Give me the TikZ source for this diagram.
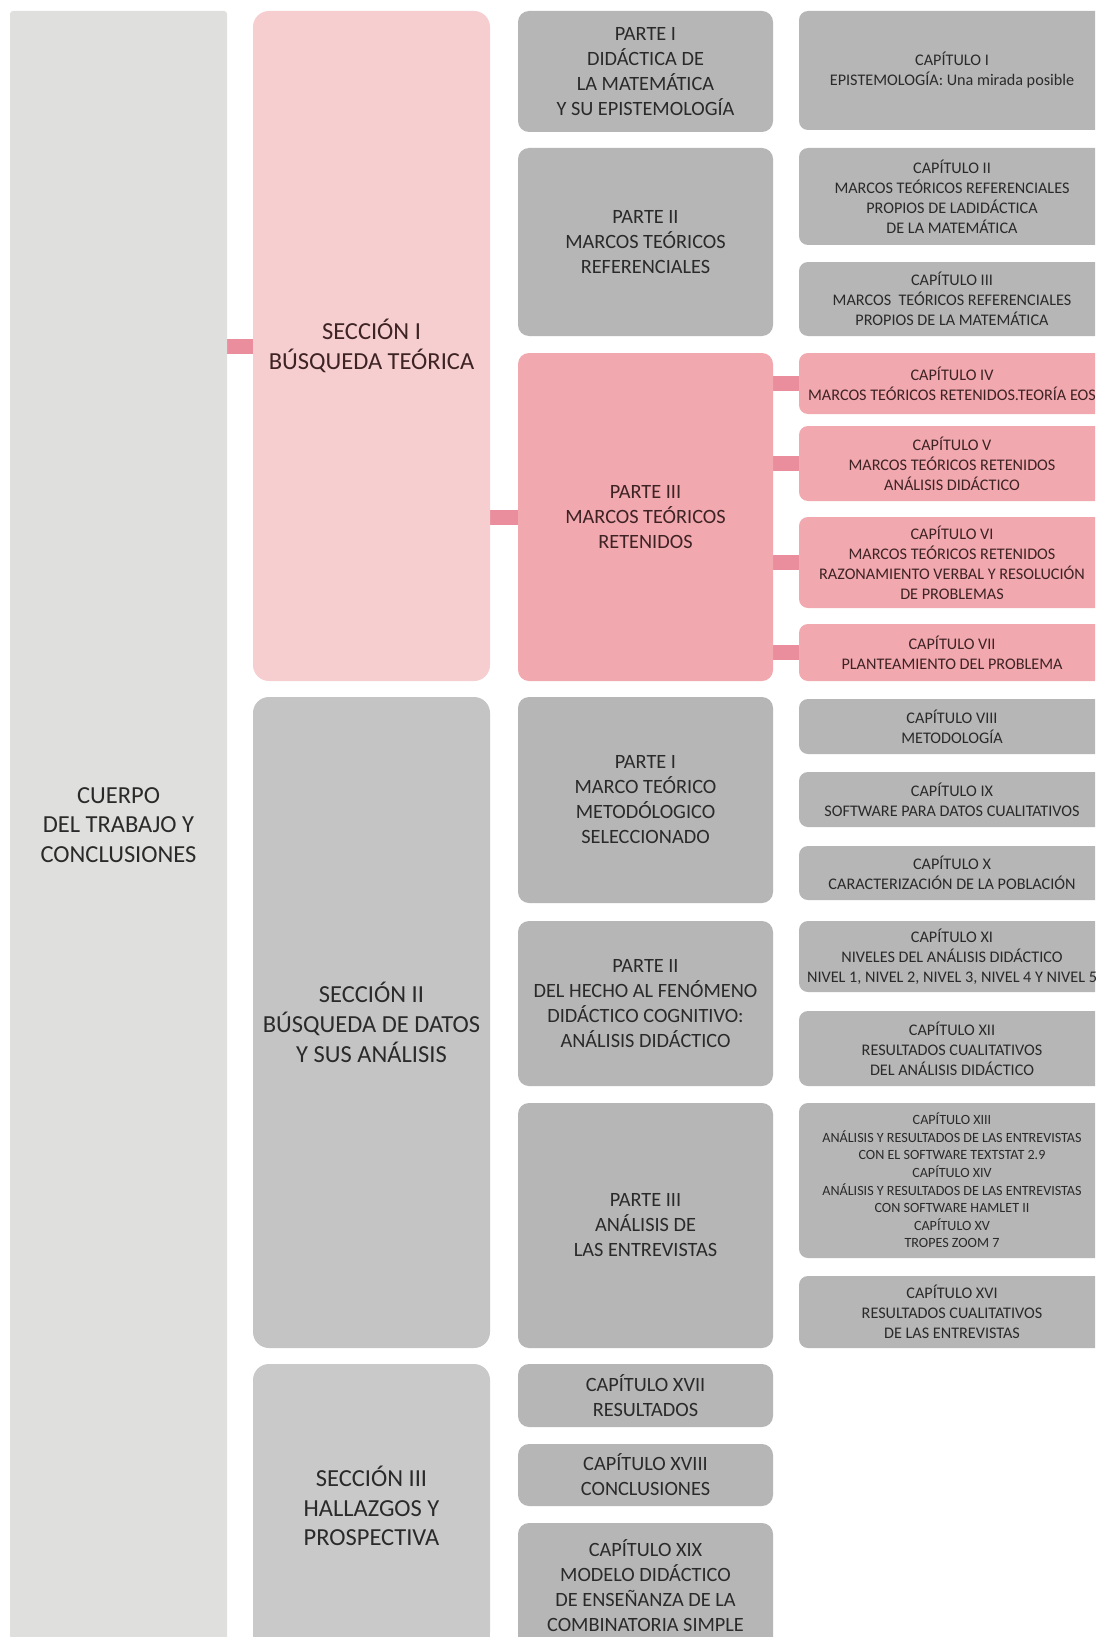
\documentclass[tikz,border=0pt]{standalone}
\usepackage{fontspec}
\setmainfont{Carlito}
\usetikzlibrary{backgrounds}
\definecolor{leftgray}{HTML}{DFE0DD}
\definecolor{secpink}{HTML}{F6CED0}
\definecolor{midpink}{HTML}{F1A8AF}
\definecolor{connpink}{HTML}{EA8D9D}
\definecolor{boxgray}{HTML}{B6B6B6}
\definecolor{secgray}{HTML}{C4C4C4}
\definecolor{lightsec}{HTML}{C9C9C9}
\definecolor{inkgray}{HTML}{2A2A2A}
\definecolor{inkpink}{HTML}{3E2324}
% box from (x1,y1) to (x2,y2): name, x1, y1, x2, y2, style, text
\newcommand\bx[7]{\node[#6, minimum width={(#4-#2)*1pt}, minimum height={(#5-#3)*1pt}] (#1) at ({(#2+#4)/2},{(#3+#5)/2}) {#7};}
\begin{document}
\begin{tikzpicture}[x=1pt,y=-1pt,
  base/.style={inner sep=0pt, align=center, text=inkgray},
  bigtxt/.style={font=\fontsize{24.5}{29.8}\selectfont},
  partetxt/.style={font=\fontsize{20.3}{25}\selectfont},
  captxt/.style={font=\fontsize{16.2}{20}\selectfont},
  smalltxt/.style={font=\fontsize{14.1}{17.6}\selectfont},
  mainbox/.style={base, bigtxt, fill=leftgray, rounded corners=3pt},
  secI/.style={base, bigtxt, fill=secpink, text=inkpink, rounded corners=16pt},
  secII/.style={base, bigtxt, fill=secgray, rounded corners=16pt},
  secIII/.style={base, bigtxt, fill=lightsec, rounded corners=16pt},
  gpart/.style={base, partetxt, fill=boxgray, rounded corners=11pt},
  ppart/.style={base, partetxt, fill=midpink, text=inkpink, rounded corners=11pt},
  gcap/.style={base, captxt, fill=boxgray, rounded corners=9pt},
  pcap/.style={base, captxt, fill=midpink, text=inkpink, rounded corners=9pt},
  conn/.style={draw=connpink, line width=15pt}
]
\useasboundingbox (0,0) rectangle (1095,1637);
\clip (0,0) rectangle (1095,1637);
\begin{scope}[on background layer]
  \fill[white] (0,0) rectangle (1095,1637);
\end{scope}

% main column
\bx{cuerpo}{10}{11}{227}{1639}{mainbox}{CUERPO\\DEL TRABAJO Y\\CONCLUSIONES}

% sections
\bx{s1}{253}{11}{490}{681}{secI}{SECCIÓN I\\BÚSQUEDA TEÓRICA}
\bx{s2}{253}{697}{490}{1348}{secII}{SECCIÓN II\\BÚSQUEDA DE DATOS\\Y SUS ANÁLISIS}
\fill[lightsec] (253,1600) rectangle (490,1660);
\bx{s3}{253}{1364}{490}{1648}{secIII}{SECCIÓN III\\HALLAZGOS Y\\PROSPECTIVA}

% parts, section I
\bx{p1}{518}{11}{773}{132}{gpart}{PARTE I\\DIDÁCTICA DE\\LA MATEMÁTICA\\Y SU EPISTEMOLOGÍA}
\bx{p2}{518}{148}{773}{336}{gpart}{PARTE II\\MARCOS TEÓRICOS\\REFERENCIALES}
\bx{p3}{518}{353}{773}{681}{ppart}{PARTE III\\MARCOS TEÓRICOS\\RETENIDOS}

% parts, section II
\bx{q1}{518}{697}{773}{903}{gpart}{PARTE I\\MARCO TEÓRICO\\METODÓLOGICO\\SELECCIONADO}
\bx{q2}{518}{921}{773}{1086}{gpart}{PARTE II\\DEL HECHO AL FENÓMENO\\DIDÁCTICO COGNITIVO:\\ANÁLISIS DIDÁCTICO}
\bx{q3}{518}{1103}{773}{1348}{gpart}{PARTE III\\ANÁLISIS DE\\LAS ENTREVISTAS}

% chapters, section III
\bx{c17}{518}{1364}{773}{1427}{gpart}{CAPÍTULO XVII\\RESULTADOS}
\bx{c18}{518}{1444}{773}{1506}{gpart}{CAPÍTULO XVIII\\CONCLUSIONES}
\bx{c19}{518}{1523}{773}{1665}{gpart}{}
\node[base, partetxt] (c19txt) at (645.5,1586) {CAPÍTULO XIX\\MODELO DIDÁCTICO\\DE ENSEÑANZA DE LA\\COMBINATORIA SIMPLE};

% chapters
\bx{c1}{799}{11}{1105}{130}{gcap}{CAPÍTULO I\\EPISTEMOLOGÍA: Una mirada posible}
\bx{c2}{799}{148}{1105}{245}{gcap}{CAPÍTULO II\\MARCOS TEÓRICOS REFERENCIALES\\PROPIOS DE LADIDÁCTICA\\DE LA MATEMÁTICA}
\bx{c3}{799}{262}{1105}{336}{gcap}{CAPÍTULO III\\MARCOS\ \ TEÓRICOS REFERENCIALES\\PROPIOS DE LA MATEMÁTICA}
\bx{c4}{799}{353}{1105}{414}{pcap}{CAPÍTULO IV\\MARCOS TEÓRICOS RETENIDOS.TEORÍA EOS}
\bx{c5}{799}{426}{1105}{501}{pcap}{CAPÍTULO V\\MARCOS TEÓRICOS RETENIDOS\\ANÁLISIS DIDÁCTICO}
\bx{c6}{799}{517}{1105}{608}{pcap}{CAPÍTULO VI\\MARCOS TEÓRICOS RETENIDOS\\RAZONAMIENTO VERBAL Y RESOLUCIÓN\\DE PROBLEMAS}
\bx{c7}{799}{624}{1105}{681}{pcap}{CAPÍTULO VII\\PLANTEAMIENTO DEL PROBLEMA}
\bx{c8}{799}{699}{1105}{754}{gcap}{CAPÍTULO VIII\\METODOLOGÍA}
\bx{c9}{799}{772}{1105}{827}{gcap}{CAPÍTULO IX\\SOFTWARE PARA DATOS CUALITATIVOS}
\bx{c10}{799}{846}{1105}{900}{gcap}{CAPÍTULO X\\CARACTERIZACIÓN DE LA POBLACIÓN}
\bx{c11}{799}{921}{1105}{992}{gcap}{CAPÍTULO XI\\NIVELES DEL ANÁLISIS DIDÁCTICO\\NIVEL 1, NIVEL 2, NIVEL 3, NIVEL 4 Y NIVEL 5}
\bx{c12}{799}{1011}{1105}{1086}{gcap}{CAPÍTULO XII\\RESULTADOS CUALITATIVOS\\DEL ANÁLISIS DIDÁCTICO}
\bx{c13}{799}{1103}{1105}{1258}{gcap,smalltxt}{CAPÍTULO XIII\\ANÁLISIS Y RESULTADOS DE LAS ENTREVISTAS\\CON EL SOFTWARE TEXTSTAT 2.9\\CAPÍTULO XIV\\ANÁLISIS Y RESULTADOS DE LAS ENTREVISTAS\\CON SOFTWARE HAMLET II\\CAPÍTULO XV\\TROPES ZOOM 7}
\bx{c16}{799}{1276}{1105}{1348}{gcap}{CAPÍTULO XVI\\RESULTADOS CUALITATIVOS\\DE LAS ENTREVISTAS}

% connectors
\begin{scope}[on background layer]
  \draw[conn] (cuerpo.east |- s1.west) -- (s1.west);
  \draw[conn] (s1.east |- p3.west) -- (p3.west);
  \foreach \c in {c4,c5,c6,c7}
    \draw[conn] (p3.east |- \c.west) -- (\c.west);
\end{scope}
\end{tikzpicture}
\end{document}
